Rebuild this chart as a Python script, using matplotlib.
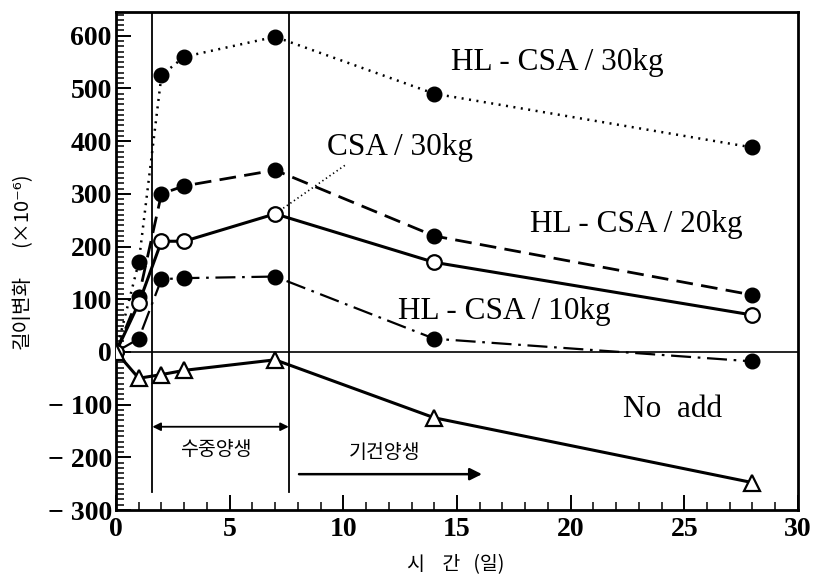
import matplotlib
matplotlib.use("Agg")
import matplotlib.pyplot as plt
from matplotlib.ticker import MultipleLocator, FixedLocator

days = [0, 1, 2, 3, 7, 14, 28]
hl30 = [0, 170, 525, 560, 598, 490, 388]
hl20 = [0, 105, 300, 315, 345, 220, 108]
csa30 = [0, 92, 210, 210, 262, 170, 70]
hl10 = [0, 25, 138, 140, 143, 25, -18]
noadd = [0, -50, -43, -35, -15, -125, -248]

yticks = [600, 500, 400, 300, 200, 100, 0, -100, -200, -300]
ytick_labels = ["600", "500", "400", "300", "200", "100", "0", "\u2212 100", "\u2212 200", "\u2212 300"]
xticks = [0, 5, 10, 15, 20, 25, 30]
xtick_labels = ["0", "5", "10", "15", "20", "25", "30"]

serif = "Liberation Serif"
kr = ["Noto Sans CJK KR", "DejaVu Sans"]

fig = plt.figure(figsize=(8.13, 5.83), dpi=100)
ax = fig.add_axes([0.1427, 0.1252, 0.9815 - 0.1427, 0.9794 - 0.1252])
ax.set_xlim(0, 30)
ax.set_ylim(-300, 645)

ms = 10.5
ax.plot(days, hl30, color="black", lw=1.8, linestyle=(0, (0.8, 2.2)),
        marker="o", ms=ms, mfc="black", mec="black", zorder=3)
ax.plot(days, hl20, color="black", lw=2.0, linestyle=(0, (6, 3)),
        marker="o", ms=ms, mfc="black", mec="black", zorder=3)
ax.plot(days, csa30, color="black", lw=2.2, linestyle="-",
        marker="o", ms=ms, mfc="white", mec="black", mew=1.6, zorder=4)
ax.plot(days, hl10, color="black", lw=1.6, linestyle=(0, (9, 3, 1.2, 3)),
        marker="o", ms=ms, mfc="black", mec="black", zorder=3)
ax.plot(days, noadd, color="black", lw=2.2, linestyle="-",
        marker="^", ms=ms + 1, mfc="white", mec="black", mew=1.6, zorder=4)

# reference lines
ax.axhline(0, color="black", lw=1.2, zorder=1)
for xv in (1.6, 7.6):
    ax.plot([xv, xv], [-265, 645], color="black", lw=1.3, zorder=1)

# arrows
ax.annotate("", xy=(1.6, -142), xytext=(7.6, -142),
            arrowprops=dict(arrowstyle="<|-|>", color="black", lw=1.3,
                            mutation_scale=12, shrinkA=0, shrinkB=0))
ax.annotate("", xy=(16.1, -232), xytext=(8.05, -232),
            arrowprops=dict(arrowstyle="-|>", color="black", lw=1.8,
                            mutation_scale=18, shrinkA=0, shrinkB=0))

# leader line for CSA/30kg
ax.plot([7.2, 10.1], [268, 355], color="black", lw=1.2, linestyle=(0, (0.8, 1.8)), zorder=2)

fs = 22.5
ax.text(19.4, 550, "HL - CSA / 30kg", family=serif, fontsize=fs, ha="center", va="center")
ax.text(12.5, 387, "CSA / 30kg", family=serif, fontsize=fs, ha="center", va="center")
ax.text(22.9, 241, "HL - CSA / 20kg", family=serif, fontsize=fs, ha="center", va="center")
ax.text(17.1, 76, "HL - CSA / 10kg", family=serif, fontsize=fs, ha="center", va="center")
ax.text(24.5, -110, "No  add", family=serif, fontsize=fs, ha="center", va="center")
ax.text(4.4, -185, "수중양생", family=kr, fontsize=14, ha="center", va="center")
ax.text(11.8, -190, "기건양생", family=kr, fontsize=14, ha="center", va="center")

# ticks
ax.yaxis.set_major_locator(FixedLocator(yticks))
ax.set_yticklabels(ytick_labels, family=serif, fontsize=20, fontweight="bold")
ax.yaxis.set_minor_locator(MultipleLocator(10))
ax.xaxis.set_major_locator(FixedLocator(xticks))
ax.set_xticklabels(xtick_labels, family=serif, fontsize=20, fontweight="bold")
ax.xaxis.set_minor_locator(MultipleLocator(1))
ax.tick_params(axis="both", which="major", direction="in", length=11, width=1.4, pad=3)
ax.tick_params(axis="both", which="minor", direction="in", length=6, width=1.1)
ax.tick_params(axis="x", which="major", pad=5)

for s in ax.spines.values():
    s.set_linewidth(2.0)

fig.text(0.027, 0.465, "길이변화", family=kr, fontsize=14.5,
         rotation=90, ha="center", va="center")
fig.text(0.027, 0.64, "(×10⁻⁶)", family=kr, fontsize=14.5,
         rotation=90, ha="center", va="center")
fig.text(0.56, 0.031, "시    간   (일)", family=kr, fontsize=14, ha="center", va="center")

fig.savefig("out.png", dpi=100)
